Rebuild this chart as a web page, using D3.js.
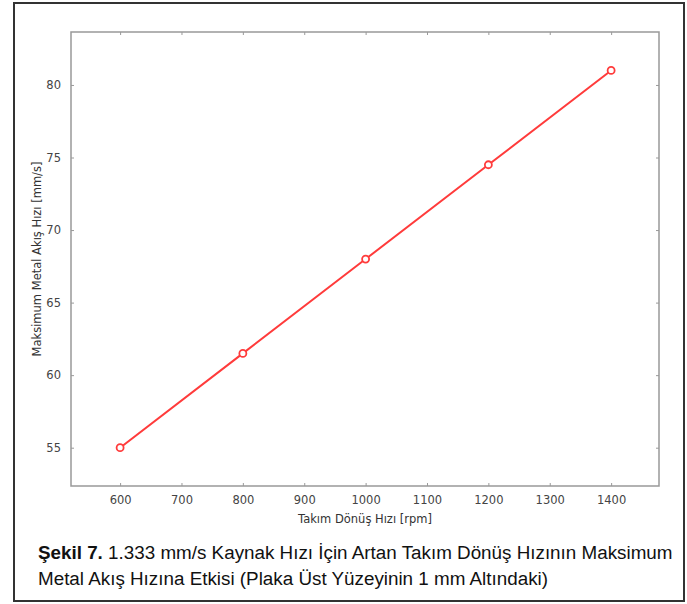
<!DOCTYPE html>
<html>
<head>
<meta charset="utf-8">
<script src="https://cdn.jsdelivr.net/npm/d3@7.9.0/dist/d3.min.js"></script>
<style>
  body { margin: 0; background: #fff; }
  svg text { font-family: "DejaVu Sans", Verdana, sans-serif; }
  .caption { font-family: "Liberation Sans", Arial, sans-serif !important; }
</style>
</head>
<body>
<svg id="chart" width="687" height="604"></svg>
<script>
// data
const speeds = [600, 800, 1000, 1200, 1400];
const flowRates = [55, 61.5, 68, 74.5, 81];
const xTicks = [600, 700, 800, 900, 1000, 1100, 1200, 1300, 1400];
const yTicks = [55, 60, 65, 70, 75, 80];
const xLabel = 'Takım Dönüş Hızı [rpm]';
const yLabel = 'Maksimum Metal Akış Hızı [mm/s]';
const captionLines = [
  ['Şekil 7.', ' 1.333 mm/s Kaynak Hızı İçin Artan Takım Dönüş Hızının Maksimum'],
  ['', 'Metal Akış Hızına Etkisi (Plaka Üst Yüzeyinin 1 mm Altındaki)']
];

const svg = d3.select('#chart');

// outer frame
svg.append('rect')
  .attr('x', 14).attr('y', 3)
  .attr('width', 670).attr('height', 598)
  .attr('fill', 'none').attr('stroke', '#333').attr('stroke-width', 2);

const plot = { left: 71, top: 32, right: 659, bottom: 486 };

const x = d3.scaleLinear().domain([520, 1478]).range([plot.left, plot.right]);
const y = d3.scaleLinear().domain([52.36, 83.65]).range([plot.bottom, plot.top]);

const axisColor = '#999';
const labelColor = '#444';
const fmt = d3.format('d');

function styleAxis(g, showText) {
  g.select('.domain').remove();
  g.selectAll('.tick line').attr('stroke', axisColor);
  g.selectAll('.tick text')
    .attr('fill', labelColor)
    .attr('font-size', 11.5)
    .style('display', showText ? null : 'none');
}

// bottom + top, left + right axes, ticks pointing inward
svg.append('g').attr('transform', `translate(0,${plot.bottom})`)
  .call(d3.axisBottom(x).tickValues(xTicks).tickFormat(fmt).tickSizeInner(-3).tickSizeOuter(0).tickPadding(10))
  .call(g => styleAxis(g, true));
svg.append('g').attr('transform', `translate(0,${plot.top})`)
  .call(d3.axisTop(x).tickValues(xTicks).tickSizeInner(-3).tickSizeOuter(0))
  .call(g => styleAxis(g, false));
svg.append('g').attr('transform', `translate(${plot.left},0)`)
  .call(d3.axisLeft(y).tickValues(yTicks).tickFormat(fmt).tickSizeInner(-3).tickSizeOuter(0).tickPadding(10))
  .call(g => styleAxis(g, true));
svg.append('g').attr('transform', `translate(${plot.right},0)`)
  .call(d3.axisRight(y).tickValues(yTicks).tickSizeInner(-3).tickSizeOuter(0))
  .call(g => styleAxis(g, false));

// box
svg.append('rect')
  .attr('x', plot.left).attr('y', plot.top)
  .attr('width', plot.right - plot.left).attr('height', plot.bottom - plot.top)
  .attr('fill', 'none').attr('stroke', axisColor).attr('stroke-width', 1.5);

// axis titles
svg.append('text')
  .attr('x', (plot.left + plot.right) / 2).attr('y', 523)
  .attr('text-anchor', 'middle').attr('font-size', 11.5).attr('fill', '#333')
  .text(xLabel);
svg.append('text')
  .attr('transform', `translate(41,${(plot.top + plot.bottom) / 2}) rotate(-90)`)
  .attr('text-anchor', 'middle').attr('font-size', 11.5).attr('fill', '#333')
  .text(yLabel);

// line and markers
const pts = speeds.map((s, i) => [s, flowRates[i]]);
const red = '#ff3b3b';
svg.append('path')
  .datum(pts)
  .attr('d', d3.line().x(d => x(d[0])).y(d => y(d[1])))
  .attr('fill', 'none').attr('stroke', red).attr('stroke-width', 2);

svg.selectAll('circle.pt')
  .data(pts).join('circle')
  .attr('class', 'pt')
  .attr('cx', d => x(d[0])).attr('cy', d => y(d[1]))
  .attr('r', 3.5)
  .attr('fill', '#fff').attr('stroke', red).attr('stroke-width', 1.8);

// caption
const cap = svg.append('g');
captionLines.forEach((parts, i) => {
  const t = cap.append('text')
    .attr('class', 'caption')
    .attr('x', 38).attr('y', 559 + i * 26)
    .attr('font-size', 18).attr('fill', '#111');
  if (parts[0]) t.append('tspan').attr('font-weight', 'bold').text(parts[0]);
  t.append('tspan').text(parts[1]);
});
// fit the first line to the frame width
const first = cap.select('text').node();
const w = first.getComputedTextLength();
const target = 635;
if (w > 0) {
  const s = target / w;
  cap.selectAll('text').attr('transform', `translate(${38 - 38 * s},0) scale(${s},1)`);
}
</script>
</body>
</html>
